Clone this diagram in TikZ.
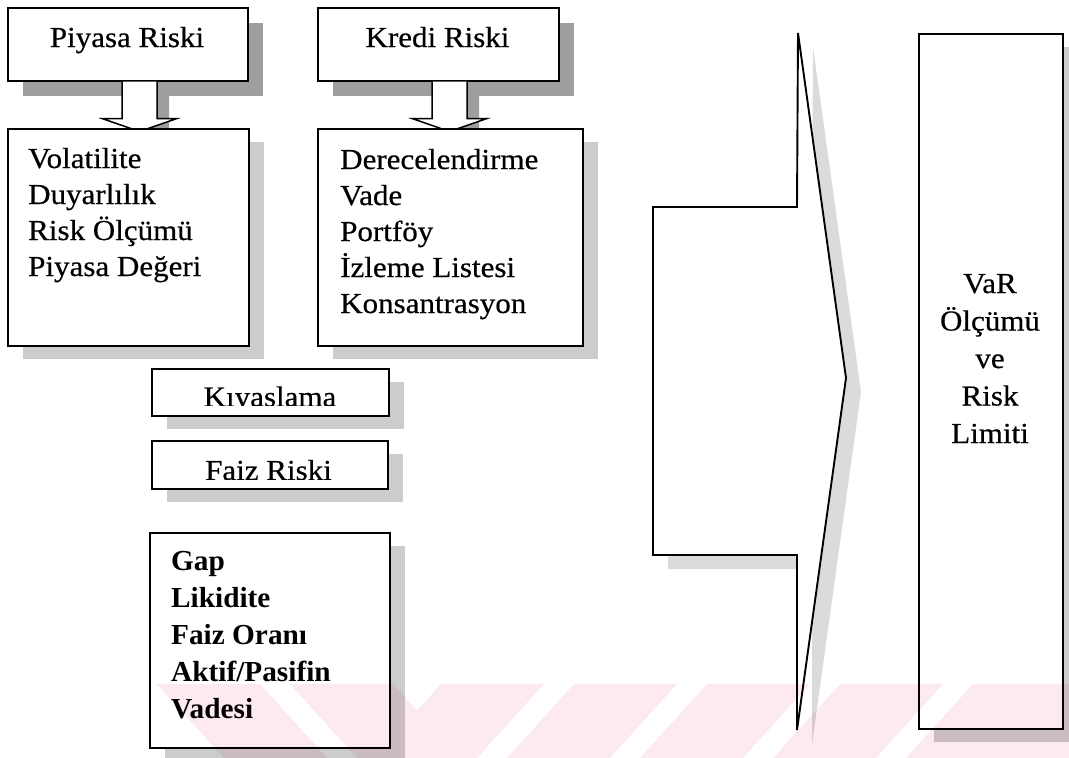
\documentclass[tikz,border=0pt]{standalone}
\usepackage{fontspec}
\setmainfont{Liberation Serif}[FakeStretch=1.07,FakeBold=0.5]
\newfontfamily\listfont{Liberation Serif}[FakeStretch=1.01]
\usetikzlibrary{calc,shadows}
\definecolor{shadowdark}{gray}{0.62}
\definecolor{shadowlight}{gray}{0.80}
\definecolor{shadowfaint}{gray}{0.86}
\definecolor{wmpink}{RGB}{252,234,238}
\begin{document}
\begin{tikzpicture}[x=1pt,y=-1pt,
  frame/.style={draw=black,line width=1.5pt,fill=white,inner sep=0pt,anchor=north west},
  darkshadow/.style={drop shadow={shadow xshift=15pt,shadow yshift=-15pt,fill=shadowdark,opacity=1}},
  lightshadow/.style={drop shadow={shadow xshift=15pt,shadow yshift=-13pt,fill=shadowlight,opacity=1}},
  arrowshadow/.style={drop shadow={shadow xshift=12pt,shadow yshift=-10pt,fill=shadowdark,opacity=1}},
  bigshadow/.style={drop shadow={shadow xshift=15pt,shadow yshift=-14pt,fill=shadowfaint,opacity=1}},
  blockarrow/.style={draw=black,line width=1.5pt,fill=white,line join=miter},
  txt/.style={inner sep=0pt,font=\fontsize{29}{36}\selectfont},
  listtxt/.style={inner sep=0pt,align=left,anchor=base west,font=\fontsize{29}{36}\selectfont},
]
\useasboundingbox (0,0) rectangle (1069,758);

% header boxes
\node[frame,darkshadow,minimum width=240pt,minimum height=73pt] (piyasa) at (7,7) {};
\node[frame,darkshadow,minimum width=241pt,minimum height=73pt] (kredi) at (317,7) {};
\node[txt,anchor=base] (piyasaT) at (127,47) {Piyasa Riski};
\node[txt,anchor=base] (krediT) at (437.5,47) {Kredi Riski};

% block arrows from the headers down to their detail boxes
\coordinate (pr) at ($(piyasa.south west)+(132.5,0)$);
\coordinate (kr) at ($(kredi.south west)+(132.5,0)$);
\draw[blockarrow,arrowshadow] ($(pr)+(-17.5,0)$) -- ($(pr)+(-17.5,37)$) -- ($(pr)+(-37.5,37)$)
  -- ($(pr)+(0,50)$) -- ($(pr)+(37.5,37)$) -- ($(pr)+(17.5,37)$) -- ($(pr)+(17.5,0)$);
\draw[blockarrow,arrowshadow] ($(kr)+(-17.5,0)$) -- ($(kr)+(-17.5,37)$) -- ($(kr)+(-37.5,37)$)
  -- ($(kr)+(0,50)$) -- ($(kr)+(37.5,37)$) -- ($(kr)+(17.5,37)$) -- ($(kr)+(17.5,0)$);

% detail boxes (multi-line texts are anchored at the baseline of their last line)
\node[frame,lightshadow,minimum width=241pt,minimum height=217pt] (pdetail) at (7,128) {};
\node[frame,lightshadow,minimum width=265pt,minimum height=217pt] (kdetail) at (317,128) {};
\node[listtxt] (pdetailT) at (28,276) {Volatilite\\Duyarlılık\\Risk Ölçümü\\Piyasa Değeri};
\node[listtxt] (kdetailT) at (340,313) {Derecelendirme\\Vade\\Portföy\\İzleme Listesi\\Konsantrasyon};

% middle column
\node[frame,lightshadow,minimum width=237pt,minimum height=47pt] (kiyas) at (151,368) {};
\node[frame,lightshadow,minimum width=236pt,minimum height=48pt] (faiz) at (151,440) {};
\begin{scope}
  \clip (151,368) rectangle (388,405.5);
  \node[txt,anchor=base] (kiyasT) at (270,406.5) {Kıyaslama};
\end{scope}
\begin{scope}
  \clip (151,440) rectangle (387,479.5);
  \node[txt,anchor=base] (faizT) at (268.5,480) {Faiz Riski};
\end{scope}

\node[frame,lightshadow,minimum width=240pt,minimum height=215pt] (gap) at (149,532) {};
\node[listtxt,font=\listfont\bfseries\fontsize{29}{37}\selectfont] (gapT) at (171,718)
  {Gap\\Likidite\\Faiz Oranı\\Aktif/Pasifin\\Vadesi};

% large arrow towards the result box
\draw[blockarrow,bigshadow,line width=1.9pt] (798,33) -- (846,378) -- (797,730) -- (797,555)
  -- (653,555) -- (653,207) -- (797,207) -- cycle;

% result box
\node[frame,lightshadow,line width=1.9pt,minimum width=144pt,minimum height=695pt] (var) at (918,33) {};
\node[txt,anchor=base,align=center,font=\fontsize{29}{37.5}\selectfont] (varT) at (990,443)
  {VaR\\Ölçümü\\ve\\Risk\\Limiti};

% faint striped stamp along the bottom edge, filled as one path
\begin{scope}[blend mode=multiply]
  \fill[wmpink]
    (157,684) -- (260,684) -- (327,758) -- (224,758) -- cycle
    (290,684) -- (393,684) -- (460,758) -- (357,758) -- cycle
    (441,684) -- (544,684) -- (477,758) -- (374,758) -- cycle
    (574,684) -- (677,684) -- (610,758) -- (507,758) -- cycle
    (707,684) -- (810,684) -- (743,758) -- (640,758) -- cycle
    (840,684) -- (943,684) -- (876,758) -- (773,758) -- cycle
    (973,684) -- (1069,684) -- (1069,758) -- (906,758) -- cycle;
\end{scope}
\end{tikzpicture}
\end{document}
